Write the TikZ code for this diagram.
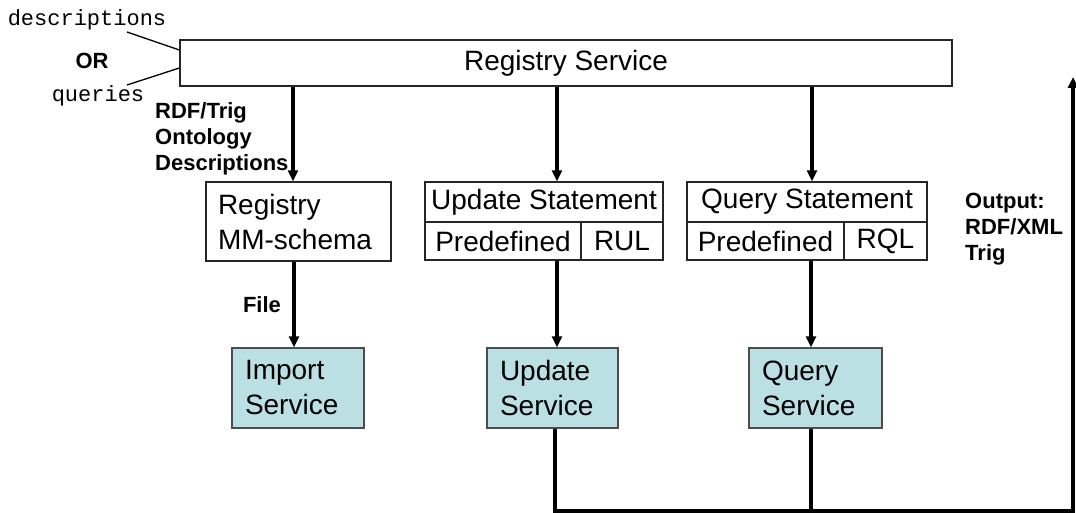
\documentclass[tikz,border=0pt]{standalone}
\usepackage{fontspec}
\setmainfont{Liberation Sans}
\setmonofont{Liberation Mono}
\usetikzlibrary{arrows.meta}
\definecolor{svcfill}{RGB}{187,224,227}
\begin{document}
\begin{tikzpicture}[x=1pt,y=-1pt,
 box/.style={draw=black!85, line width=1.3pt, inner sep=0pt, font=\fontsize{28}{35}\selectfont},
 svc/.style={box, fill=svcfill, draw=black!70, align=left},
 conn/.style={line width=3.2pt, -{Triangle[length=11pt,width=10pt]}},
 wire/.style={line width=3.2pt},
 lbl/.style={font=\bfseries\fontsize{22}{26}\selectfont, align=left, inner sep=0pt},
 mono/.style={font=\ttfamily\fontsize{22}{26}\selectfont, inner sep=0pt},
 thinline/.style={line width=1.3pt}]
\useasboundingbox (0,0) rectangle (1076,513);

% main boxes
\node[box, minimum width=772pt, minimum height=46pt] (reg) at (566,63) {Registry Service};
\node[box, minimum width=185pt, minimum height=79pt, text width=161pt, inner xsep=12pt, align=left] (mm) at (298.5,221.5) {Registry\\MM-schema};

\node[box, minimum width=238pt, minimum height=40pt] (ust) at (544,202) {Update Statement};
\node[box, minimum width=156pt, minimum height=38pt] (upre) at (503,241) {Predefined};
\node[box, minimum width=82pt, minimum height=38pt] (urul) at (622,241) {RUL};

\node[box, minimum width=240pt, minimum height=40pt] (qst) at (807,202) {Query Statement};
\node[box, minimum width=157pt, minimum height=38pt] (qpre) at (765.5,241) {Predefined};
\node[box, minimum width=83pt, minimum height=38pt] (qrql) at (885.5,241) {RQL};

\node[svc, minimum width=132pt, minimum height=80pt, text width=106pt, inner xsep=13pt] (imp) at (298,388) {Import\\Service};
\node[svc, minimum width=131pt, minimum height=80pt, text width=105pt, inner xsep=13pt] (usv) at (552.5,388) {Update\\Service};
\node[svc, minimum width=133pt, minimum height=80pt, text width=107pt, inner xsep=13pt] (qsv) at (815.5,388) {Query\\Service};

% labels
\node[mono] (desc) at (87,20) {descriptions};
\node[mono] (qry) at (98,96) {queries};
\node[lbl] (or) at (92,61) {OR};
\node[lbl, anchor=west] (rdf) at (155,139) {RDF/Trig\\Ontology\\Descriptions};
\node[lbl] (file) at (262,305) {File};
\node[lbl, anchor=west] (out) at (965,229) {Output:\\RDF/XML\\Trig};

% input pointer lines
\coordinate (d1) at (127,32);
\coordinate (d2) at (127,85);
\draw[thinline] (d1) -- (reg.west |- 0,50);
\draw[thinline] (d2) -- (reg.west |- 0,68);

% connectors
\coordinate (c1) at (293,0);
\coordinate (c2) at (557,0);
\coordinate (c3) at (812,0);
\coordinate (c4) at (294,0);
\coordinate (c5) at (557,0);
\coordinate (c6) at (811,0);
\draw[conn] (reg.south -| c1) -- (mm.north -| c1);
\draw[conn] (reg.south -| c2) -- (ust.north -| c2);
\draw[conn] (reg.south -| c3) -- (qst.north -| c3);
\draw[conn] (mm.south -| c4) -- (imp.north -| c4);
\draw[conn] (upre.south -| c5) -- (usv.north -| c5);
\draw[conn] (qpre.south -| c6) -- (qsv.north -| c6);

% output return path
\coordinate (bl) at (555,511);
\coordinate (br) at (1073,511);
\coordinate (tp) at (1073,77);
\coordinate (qb) at (811,511);
\draw[conn] (usv.south -| bl) -- (bl) -- (br) -- (tp);
\draw[wire] (qsv.south -| qb) -- (qb);
\end{tikzpicture}
\end{document}
